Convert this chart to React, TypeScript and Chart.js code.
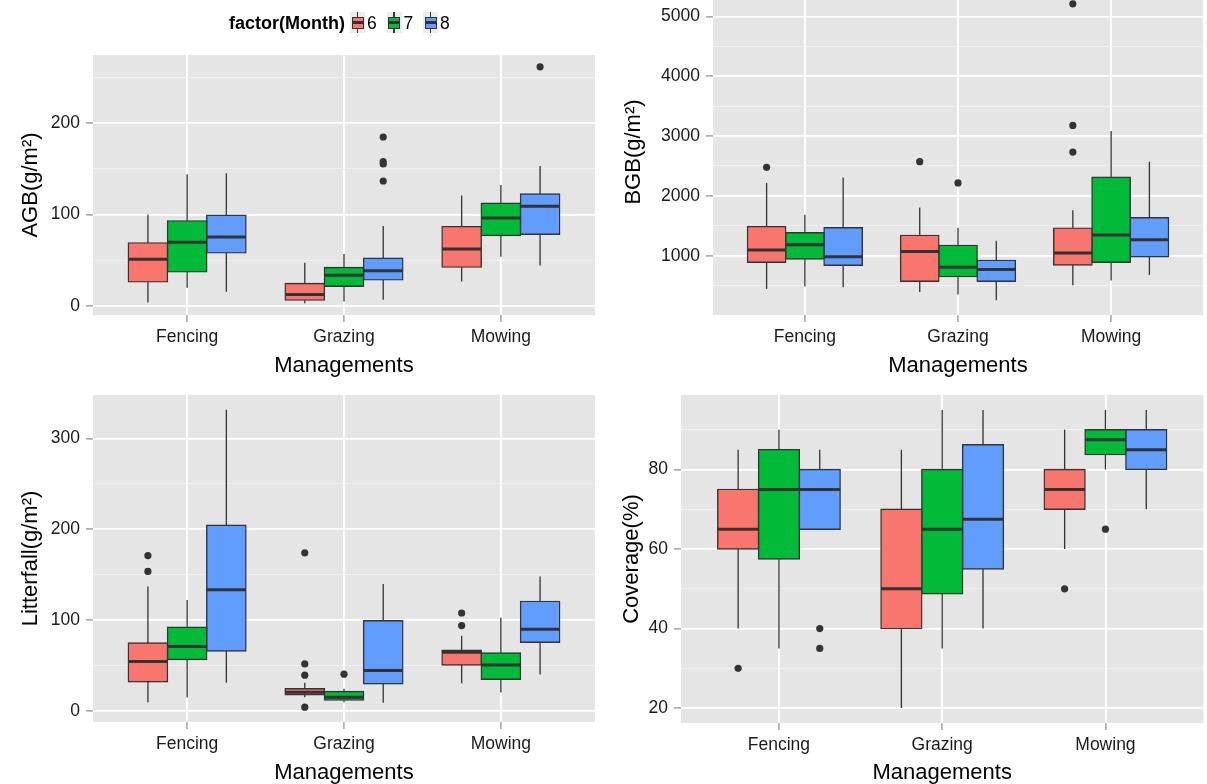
import React, { useEffect, useRef } from 'react';
import { Chart, registerables } from 'chart.js';

Chart.register(...registerables);

const FONT = "'Liberation Sans', Arial, Helvetica, sans-serif";

const categories = ['Fencing', 'Grazing', 'Mowing'];
const months = ['6', '7', '8'];
const monthColors = ['#F8766D', '#00BA38', '#619CFF'];
const xAxisTitle = 'Managements';
const legendTitle = 'factor(Month)';

// Each row: [lower whisker, Q1, median, Q3, upper whisker] for Fencing, Grazing, Mowing
const agb6 = [[3.6, 26.2, 51.0, 68.9, 99.8], [2.9, 6.2, 12.4, 24.4, 47.0], [26.6, 42.3, 62.3, 86.7, 120.6]];
const agb7 = [[19.7, 37.2, 69.6, 92.9, 143.9], [4.7, 21.5, 33.5, 41.9, 56.8], [53.6, 76.9, 96.2, 112.2, 132.2]];
const agb8 = [[15.3, 57.9, 75.4, 99.1, 145.0], [6.6, 28.4, 38.3, 52.1, 87.4], [44.0, 78.3, 109.0, 122.4, 153.0]];
const agbOut6 = [[], [], []];
const agbOut7 = [[], [], []];
const agbOut8 = [[], [184.7, 157.7, 155.2, 136.6], [261.5]];
const agbMajor = [0, 100, 200];
const agbMinor = [50, 150, 250];

const bgb6 = [[444, 889, 1094, 1489, 2217], [394, 572, 1072, 1339, 1806], [506, 844, 1044, 1461, 1761]];
const bgb7 = [[489, 944, 1183, 1383, 1683], [350, 650, 806, 1172, 1467], [583, 889, 1344, 2311, 3083]];
const bgb8 = [[472, 839, 983, 1467, 2306], [256, 572, 767, 922, 1250], [678, 983, 1267, 1633, 2572]];
const bgbOut6 = [[2478], [2572], [5211, 3178, 2733]];
const bgbOut7 = [[], [2217], []];
const bgbOut8 = [[], [], []];
const bgbMajor = [1000, 2000, 3000, 4000, 5000];
const bgbMinor = [500, 1500, 2500, 3500, 4500];

const lit6 = [[9.5, 31.9, 54.2, 74.7, 137.0], [15.0, 17.6, 20.5, 24.2, 30.8], [30.4, 50.5, 64.5, 66.7, 82.7]];
const lit7 = [[14.7, 56.4, 70.7, 92.0, 122.0], [9.5, 11.7, 15.0, 21.2, 24.2], [20.1, 34.8, 50.5, 63.7, 102.6]];
const lit8 = [[30.8, 65.9, 133.3, 204.4, 331.5], [8.8, 29.7, 44.3, 99.2, 139.6], [39.9, 75.5, 89.7, 120.5, 148.0]];
const litOut6 = [[171.0, 153.5], [174.0, 51.6, 39.2, 4.0], [107.7, 93.8]];
const litOut7 = [[], [40.3], []];
const litOut8 = [[], [], []];
const litMajor = [0, 100, 200, 300];
const litMinor = [50, 150, 250];

const cov6 = [[40, 60, 65, 75, 85], [20, 40, 50, 70, 85], [60, 70, 75, 80, 90]];
const cov7 = [[35, 57.5, 75, 85, 90], [35, 48.75, 65, 80, 95], [80, 83.75, 87.5, 90, 95]];
const cov8 = [[65, 65, 75, 80, 85], [40, 55, 67.5, 86.25, 95], [70, 80, 85, 90, 95]];
const covOut6 = [[30], [], [50]];
const covOut7 = [[], [], [65]];
const covOut8 = [[40, 35], [], []];
const covMajor = [20, 40, 60, 80];
const covMinor = [30, 50, 70, 90];

type Frame = {
  left: number; top: number; width: number; height: number;
  yAxisW: number; xAxisH: number; padTop: number; padRight: number;
  yTitlePad: number; xTitlePad: number;
};
type Panel = {
  key: string; yTitle: string;
  boxes: number[][][]; outliers: number[][][];
  major: number[]; minor: number[]; frame: Frame;
};

const panels: Panel[] = [
  {
    key: 'agb', yTitle: 'AGB(g/m²)', boxes: [agb6, agb7, agb8], outliers: [agbOut6, agbOut7, agbOut8],
    major: agbMajor, minor: agbMinor,
    frame: { left: 0, top: 30, width: 600, height: 360, yAxisW: 93, xAxisH: 75, padTop: 25, padRight: 5, yTitlePad: 17.8, xTitlePad: 10.8 },
  },
  {
    key: 'bgb', yTitle: 'BGB(g/m²)', boxes: [bgb6, bgb7, bgb8], outliers: [bgbOut6, bgbOut7, bgbOut8],
    major: bgbMajor, minor: bgbMinor,
    frame: { left: 600, top: -40, width: 607, height: 430, yAxisW: 113, xAxisH: 75, padTop: 29, padRight: 4, yTitlePad: 20.8, xTitlePad: 10.8 },
  },
  {
    key: 'lit', yTitle: 'Litterfall(g/m²)', boxes: [lit6, lit7, lit8], outliers: [litOut6, litOut7, litOut8],
    major: litMajor, minor: litMinor,
    frame: { left: 0, top: 370, width: 600, height: 430, yAxisW: 93, xAxisH: 78, padTop: 25, padRight: 5, yTitlePad: 17.8, xTitlePad: 13.5 },
  },
  {
    key: 'cov', yTitle: 'Coverage(%)', boxes: [cov6, cov7, cov8], outliers: [covOut6, covOut7, covOut8],
    major: covMajor, minor: covMinor,
    frame: { left: 600, top: 370, width: 607, height: 430, yAxisW: 81, xAxisH: 77, padTop: 25, padRight: 3, yTitlePad: 18.8, xTitlePad: 13.5 },
  },
];

const INK = '#333333';
const TEXT = '#1A1A1A';
const TICK_MARK = '#8A8A8A';

function buildConfig(p: Panel): any {
  const values: number[] = [];
  p.boxes.forEach((rows) => rows.forEach((r) => values.push(r[0], r[4])));
  p.outliers.forEach((cats) => cats.forEach((vals) => values.push(...vals)));
  const lo = Math.min(...values);
  const hi = Math.max(...values);
  const expand = (hi - lo) * 0.05;
  const yMin = lo - expand;
  const yMax = hi + expand;
  const nBox = p.boxes.length;

  const datasets: any[] = [
    ...p.boxes.map((rows, j) => ({
      type: 'bar',
      label: months[j],
      data: rows.map((r, i) => ({ x: i + 1, y: [r[1], r[3]] })),
      backgroundColor: monthColors[j],
      borderColor: INK,
      borderWidth: 1.4,
      borderSkipped: false,
      inflateAmount: 0.7,
      categoryPercentage: 0.75,
      barPercentage: 1,
      order: 1,
    })),
    ...p.outliers.map((cats, j) => ({
      type: 'scatter',
      label: 'outliers ' + months[j],
      data: cats.flatMap((vals, i) => vals.map((v) => ({ x: i + 1 + (j - 1) * 0.25, y: v }))),
      backgroundColor: INK,
      borderWidth: 0,
      pointRadius: 3.6,
      pointHoverRadius: 3.6,
      showLine: false,
      order: 0,
    })),
  ];

  const line = (ctx: CanvasRenderingContext2D, x1: number, y1: number, x2: number, y2: number) => {
    ctx.beginPath();
    ctx.moveTo(x1, y1);
    ctx.lineTo(x2, y2);
    ctx.stroke();
  };

  const ggPlugin = {
    id: 'ggbox',
    beforeDraw(chart: any) {
      const { ctx, chartArea: a } = chart;
      ctx.save();
      ctx.fillStyle = '#E5E5E5';
      ctx.fillRect(a.left, a.top, a.right - a.left, a.bottom - a.top);
      ctx.restore();
    },
    beforeDatasetsDraw(chart: any) {
      const { ctx, chartArea: a } = chart;
      const ys = chart.scales.y;
      ctx.save();
      ctx.beginPath();
      ctx.rect(a.left, a.top, a.right - a.left, a.bottom - a.top);
      ctx.clip();
      ctx.strokeStyle = INK;
      ctx.lineWidth = 1.3;
      p.boxes.forEach((rows, j) => {
        const meta = chart.getDatasetMeta(j);
        meta.data.forEach((el: any, i: number) => {
          const r = rows[i];
          line(ctx, el.x, ys.getPixelForValue(r[0]), el.x, ys.getPixelForValue(r[1]));
          line(ctx, el.x, ys.getPixelForValue(r[3]), el.x, ys.getPixelForValue(r[4]));
        });
      });
      ctx.restore();
    },
    afterDatasetDraw(chart: any, args: any) {
      if (args.index >= nBox) return;
      const { ctx } = chart;
      const ys = chart.scales.y;
      const rows = p.boxes[args.index];
      ctx.save();
      ctx.strokeStyle = INK;
      ctx.lineWidth = 3;
      ctx.lineCap = 'butt';
      args.meta.data.forEach((el: any, i: number) => {
        const py = ys.getPixelForValue(rows[i][2]);
        line(ctx, el.x - el.width / 2, py, el.x + el.width / 2, py);
      });
      ctx.restore();
    },
  };

  const isMajor = (v: number) => p.major.includes(v);
  const f = p.frame;

  return {
    type: 'bar',
    data: { datasets },
    plugins: [ggPlugin],
    options: {
      responsive: false,
      maintainAspectRatio: false,
      devicePixelRatio: 1,
      animation: false,
      events: [],
      layout: { padding: { left: 0, top: f.padTop, right: f.padRight, bottom: 0 } },
      plugins: {
        legend: { display: false },
        tooltip: { enabled: false },
        title: { display: false },
      },
      scales: {
        x: {
          type: 'linear',
          min: 0.4,
          max: 3.6,
          bounds: 'data',
          offset: false,
          afterBuildTicks: (s: any) => {
            s.ticks = categories.map((_, i) => ({ value: i + 1 }));
          },
          afterFit: (s: any) => {
            s.height = f.xAxisH;
          },
          border: { display: false },
          grid: {
            offset: false,
            color: '#FFFFFF',
            lineWidth: 1.8,
            drawTicks: true,
            tickLength: 7,
            tickColor: TICK_MARK,
            tickWidth: 1.2,
          },
          ticks: {
            autoSkip: false,
            maxRotation: 0,
            minRotation: 0,
            padding: 5,
            color: TEXT,
            font: { family: FONT, size: 17.5 },
            callback: (v: number) => categories[Math.round(v) - 1] ?? '',
          },
          title: {
            display: true,
            text: xAxisTitle,
            color: '#000000',
            font: { family: FONT, size: 22 },
            padding: { top: 0, bottom: f.xTitlePad },
          },
        },
        y: {
          type: 'linear',
          min: yMin,
          max: yMax,
          bounds: 'data',
          beginAtZero: false,
          afterBuildTicks: (s: any) => {
            s.ticks = [...p.major, ...p.minor]
              .filter((v) => v >= yMin && v <= yMax)
              .sort((a, b) => a - b)
              .map((v) => ({ value: v }));
          },
          afterFit: (s: any) => {
            s.width = f.yAxisW;
          },
          border: { display: false },
          grid: {
            color: (c: any) => (isMajor(c.tick?.value) ? '#FFFFFF' : '#F2F2F2'),
            lineWidth: (c: any) => (isMajor(c.tick?.value) ? 1.8 : 0.9),
            drawTicks: true,
            tickLength: 7,
            tickColor: (c: any) => (isMajor(c.tick?.value) ? TICK_MARK : 'rgba(0,0,0,0)'),
            tickWidth: 1.2,
          },
          ticks: {
            autoSkip: false,
            padding: 6,
            color: TEXT,
            font: { family: FONT, size: 17.5 },
            callback: (v: number) => (isMajor(v) ? String(v) : ''),
          },
          title: {
            display: true,
            text: p.yTitle,
            color: '#000000',
            font: { family: FONT, size: 22 },
            padding: { top: f.yTitlePad, bottom: 0 },
          },
        },
      },
    },
  };
}

function ChartPanel({ panel }: { panel: Panel }) {
  const ref = useRef<HTMLCanvasElement | null>(null);
  useEffect(() => {
    if (!ref.current) return;
    const chart = new Chart(ref.current, buildConfig(panel));
    return () => chart.destroy();
  }, [panel]);
  const f = panel.frame;
  return (
    <canvas
      ref={ref}
      width={f.width}
      height={f.height}
      style={{ position: 'absolute', left: f.left, top: f.top, width: f.width, height: f.height, display: 'block' }}
    />
  );
}

function Legend() {
  const textStyle: React.CSSProperties = {
    position: 'absolute',
    top: 13,
    lineHeight: '20px',
    fontFamily: FONT,
    color: '#000000',
    whiteSpace: 'nowrap',
  };
  return (
    <div>
      <div style={{ ...textStyle, left: 229, fontSize: 18, fontWeight: 'bold' }}>{legendTitle}</div>
      {months.map((m, j) => (
        <React.Fragment key={m}>
          <div style={{ position: 'absolute', left: 350 + j * 36.5, top: 12, width: 15, height: 21, background: '#EDEDED' }}>
            <div style={{ position: 'absolute', left: 6.8, top: 0, width: 1.4, height: 21, background: INK }} />
            <div
              style={{
                position: 'absolute', left: 1.5, top: 4.5, width: 12, height: 12,
                background: monthColors[j], border: '1.4px solid ' + INK, boxSizing: 'border-box',
              }}
            />
            <div style={{ position: 'absolute', left: 1.5, top: 9.2, width: 12, height: 2.6, background: INK }} />
          </div>
          <div style={{ ...textStyle, left: 367 + j * 36.5, fontSize: 17.5 }}>{m}</div>
        </React.Fragment>
      ))}
    </div>
  );
}

export default function App() {
  return (
    <div
      style={{
        position: 'absolute', left: 0, top: 0, width: 1207, height: 784,
        overflow: 'hidden', background: '#FFFFFF',
      }}
    >
      {panels.map((p) => (
        <ChartPanel key={p.key} panel={p} />
      ))}
      <Legend />
    </div>
  );
}
